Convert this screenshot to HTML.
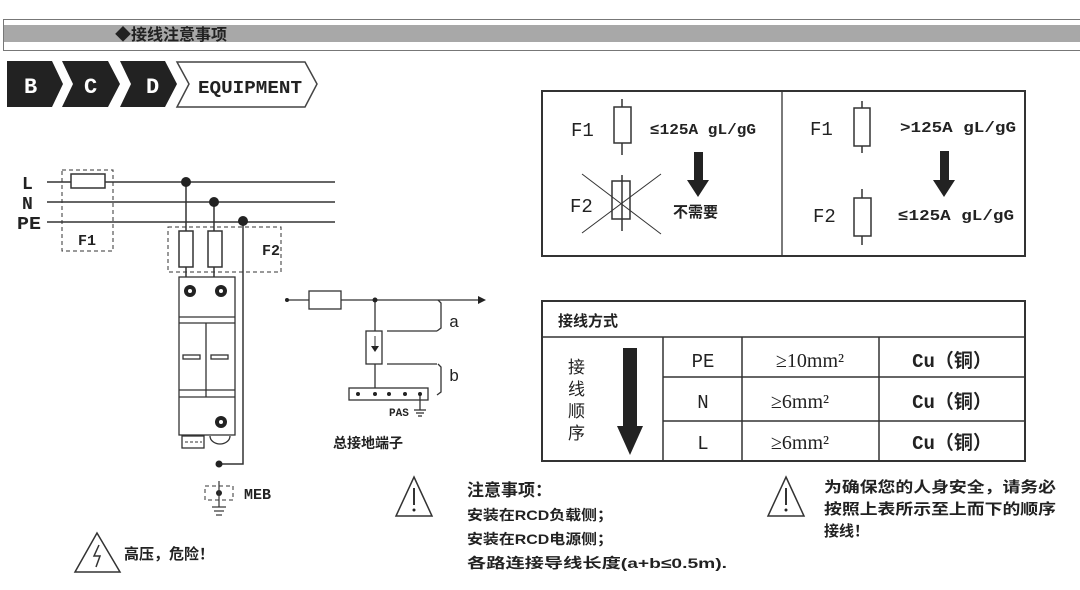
<!DOCTYPE html>
<html><head><meta charset="utf-8"><style>
html,body{margin:0;padding:0;background:#fff;width:1080px;height:590px;overflow:hidden}
svg{display:block}
text{font-family:"Liberation Sans","Noto Sans CJK SC",sans-serif;fill:#222}
.s{font-family:"Liberation Serif","Noto Serif CJK SC",serif}
.m{font-family:"Liberation Mono","Noto Sans CJK SC",monospace}
</style></head><body>
<svg width="1080" height="590" viewBox="0 0 1080 590" xmlns="http://www.w3.org/2000/svg">
<rect x="3.5" y="19.5" width="1080" height="31" fill="#fff" stroke="#777" stroke-width="1"/>
<rect x="4" y="25" width="1076" height="17" fill="#a8a8a8"/>
<text x="115" y="40" font-size="16" font-weight="bold" fill="#333">◆接线注意事项</text>
<polygon points="7,61 52,61 63,84 52,107 7,107" fill="#222"/>
<polygon points="62,61 108,61 120,84 108,107 62,107 73,84" fill="#222"/>
<polygon points="120,61 165,61 177,84 165,107 120,107 131,84" fill="#222"/>
<polygon points="177,62 305,62 317,84 305,107 177,107 189,84" fill="#fff" stroke="#444" stroke-width="1.5"/>
<text x="24" y="93" font-size="22" class="m" font-weight="bold" style="fill:#fff">B</text>
<text x="84" y="93" font-size="22" class="m" font-weight="bold" style="fill:#fff">C</text>
<text x="146" y="93" font-size="22" class="m" font-weight="bold" style="fill:#fff">D</text>
<text x="198" y="93" font-size="18" font-weight="bold" class="m" textLength="104" lengthAdjust="spacingAndGlyphs">EQUIPMENT</text>
<g stroke="#333" stroke-width="1.5" fill="none">
<line x1="47" y1="182" x2="335" y2="182"/>
<line x1="47" y1="202" x2="335" y2="202"/>
<line x1="47" y1="222" x2="335" y2="222"/>
<rect x="71" y="174" width="34" height="14" fill="#fff"/>
<line x1="186" y1="182" x2="186" y2="278"/>
<line x1="214" y1="202" x2="214" y2="278"/>
<polyline points="243,222 243,464 219,464"/>
<rect x="179" y="231" width="14" height="36" fill="#fff"/>
<rect x="208" y="231" width="14" height="36" fill="#fff"/>
</g>
<g stroke="#333" stroke-width="1" fill="none" stroke-dasharray="4,3">
<rect x="62" y="170" width="51" height="81"/>
<rect x="168" y="227" width="113" height="45"/>
<rect x="205" y="486" width="28" height="14"/>
</g>
<g fill="#222"><circle cx="186" cy="182" r="5"/><circle cx="214" cy="202" r="5"/><circle cx="243" cy="221" r="5"/><circle cx="219" cy="464" r="3.5"/></g>
<text x="22" y="189" font-size="18" class="m" font-weight="bold">L</text>
<text x="22" y="209" font-size="18" class="m" font-weight="bold">N</text>
<text x="17" y="229" font-size="18" class="m" font-weight="bold" textLength="24" lengthAdjust="spacingAndGlyphs">PE</text>
<text x="78" y="245" font-size="15" font-weight="bold" class="m">F1</text>
<text x="262" y="255" font-size="15" font-weight="bold" class="m">F2</text>
<g stroke="#333" stroke-width="1.3" fill="#fff">
<rect x="179" y="277" width="56" height="158"/>
<line x1="179" y1="317" x2="235" y2="317"/><line x1="179" y1="323" x2="235" y2="323"/>
<line x1="206" y1="323" x2="206" y2="397"/>
<line x1="179" y1="390" x2="235" y2="390"/><line x1="179" y1="397" x2="235" y2="397"/>
<rect x="183" y="355" width="17" height="4"/><rect x="211" y="355" width="17" height="4"/>
<rect x="182" y="436" width="22" height="12"/>
<path d="M210,436 A10,8 0 0 0 230,436" fill="none"/>
</g>
<g fill="#222"><circle cx="190" cy="291" r="6"/><circle cx="221" cy="291" r="6"/><circle cx="221" cy="422" r="6"/></g>
<g fill="#fff"><circle cx="190" cy="291" r="2"/><circle cx="221" cy="291" r="2"/><circle cx="221" cy="422" r="2"/></g>
<line x1="185" y1="442" x2="202" y2="442" stroke="#333" stroke-dasharray="3,2"/>
<circle cx="219" cy="493" r="3" fill="#222"/>
<g stroke="#333" stroke-width="1.2"><line x1="219" y1="481" x2="219" y2="507"/><line x1="212" y1="507" x2="226" y2="507"/><line x1="214" y1="511" x2="224" y2="511"/><line x1="216" y1="515" x2="222" y2="515"/></g>
<text x="244" y="499" font-size="15" font-weight="bold" class="m">MEB</text>
<g stroke="#333" stroke-width="1.3" fill="none">
<line x1="287" y1="300" x2="478" y2="300"/>
<rect x="309" y="291" width="32" height="18" fill="#fff"/>
<line x1="375" y1="300" x2="375" y2="389"/>
<rect x="366" y="331" width="16" height="33" fill="#fff"/>
<line x1="387" y1="331" x2="437" y2="331"/><line x1="387" y1="364" x2="437" y2="364"/>
<path d="M438,300 l3,3 v25 l-4,3"/><path d="M438,364 l3,3 v25 l-4,3"/>
<rect x="349" y="388" width="79" height="12" fill="#fff"/>
<line x1="420" y1="394" x2="420" y2="410"/><line x1="414" y1="410" x2="426" y2="410"/><line x1="416" y1="413" x2="424" y2="413"/><line x1="418" y1="416" x2="422" y2="416"/>
</g>
<polygon points="478,296 486,300 478,304" fill="#222"/>
<polygon points="371,346 379,346 375,352" fill="#222"/>
<line x1="375" y1="336" x2="375" y2="348" stroke="#333"/>
<g fill="#222"><circle cx="287" cy="300" r="2"/><circle cx="375" cy="300" r="2.5"/><circle cx="358" cy="394" r="2"/><circle cx="375" cy="394" r="2"/><circle cx="389" cy="394" r="2"/><circle cx="405" cy="394" r="2"/><circle cx="420" cy="394" r="2"/></g>
<text x="449" y="327" font-size="17" class="m">a</text>
<text x="449" y="381" font-size="17" class="m">b</text>
<text x="389" y="416" font-size="11" font-weight="bold" class="m">PAS</text>
<text x="333" y="448" font-size="14" font-weight="bold">总接地端子</text>
<polygon points="97,533 120,572 75,572" fill="none" stroke="#333" stroke-width="1.5"/>
<path d="M99,545 l-5,11 h6 l-4,11" fill="none" stroke="#333" stroke-width="1.5"/>
<text x="124" y="559" font-size="15" font-weight="bold">高压，危险！</text>
<g stroke="#333" fill="none">
<rect x="542" y="91" width="483" height="165" stroke-width="2"/>
<line x1="782" y1="91" x2="782" y2="256" stroke-width="1.3"/>
<g stroke-width="1.5">
<line x1="622" y1="99" x2="622" y2="155"/><rect x="614" y="107" width="17" height="36" fill="#fff"/>
<line x1="622" y1="175" x2="622" y2="231"/><rect x="612" y="181" width="18" height="38" fill="none"/>
<line x1="582" y1="174" x2="661" y2="234" stroke-width="1"/><line x1="582" y1="233" x2="661" y2="174" stroke-width="1"/>
<line x1="862" y1="101" x2="862" y2="153"/><rect x="854" y="108" width="16" height="38" fill="#fff"/>
<line x1="862" y1="189" x2="862" y2="245"/><rect x="854" y="198" width="17" height="38" fill="#fff"/>
</g></g>
<polygon points="694,152 703,152 703,180 709,180 698,197 687,180 694,180" fill="#222"/>
<polygon points="940,151 949,151 949,180 955,180 944,197 933,180 940,180" fill="#222"/>
<text x="571" y="136" font-size="19" class="m">F1</text>
<text x="570" y="212" font-size="19" class="m">F2</text>
<text x="650" y="134" font-size="15" font-weight="bold" class="m" textLength="106" lengthAdjust="spacingAndGlyphs">≤125A gL/gG</text>
<text x="673" y="217" font-size="15" font-weight="bold">不需要</text>
<text x="810" y="135" font-size="19" class="m">F1</text>
<text x="813" y="222" font-size="19" class="m">F2</text>
<text x="900" y="132" font-size="15" font-weight="bold" class="m" textLength="116" lengthAdjust="spacingAndGlyphs">&gt;125A gL/gG</text>
<text x="898" y="220" font-size="15" font-weight="bold" class="m" textLength="116" lengthAdjust="spacingAndGlyphs">≤125A gL/gG</text>
<g stroke="#333" fill="none" stroke-width="1.5">
<rect x="542" y="301" width="483" height="160" stroke-width="2"/>
<line x1="542" y1="337" x2="1025" y2="337"/>
<line x1="663" y1="337" x2="663" y2="461"/>
<line x1="742" y1="337" x2="742" y2="461"/>
<line x1="879" y1="337" x2="879" y2="461"/>
<line x1="663" y1="377" x2="1025" y2="377"/>
<line x1="663" y1="421" x2="1025" y2="421"/>
</g>
<text x="558" y="326" font-size="15" font-weight="bold">接线方式</text>
<text x="568" y="373" font-size="17">接</text>
<text x="568" y="395" font-size="17">线</text>
<text x="568" y="417" font-size="17">顺</text>
<text x="568" y="439" font-size="17">序</text>
<polygon points="623,348 637,348 637,426 643,426 630,455 617,426 623,426" fill="#222"/>
<g font-size="19" text-anchor="middle">
<text x="703" y="367" class="m">PE</text><text x="703" y="408" class="m">N</text><text x="703" y="449" class="m">L</text>
<text x="810" y="367" class="s" font-size="20">≥10mm²</text><text x="800" y="408" class="s" font-size="20">≥6mm²</text><text x="800" y="449" class="s" font-size="20">≥6mm²</text>
<text x="952" y="367" class="m" font-weight="bold">Cu（铜）</text><text x="952" y="408" class="m" font-weight="bold">Cu（铜）</text><text x="952" y="449" class="m" font-weight="bold">Cu（铜）</text>
</g>
<polygon points="414,477 432,516 396,516" fill="none" stroke="#333" stroke-width="1.5"/>
<line x1="414" y1="488" x2="414" y2="505" stroke="#333" stroke-width="2"/><circle cx="414" cy="510" r="1.5" fill="#222"/>
<text x="467" y="496" font-size="17" font-weight="bold">注意事项：</text>
<text x="467" y="520" font-size="14" font-weight="bold" textLength="146" lengthAdjust="spacingAndGlyphs">安装在RCD负载侧；</text>
<text x="467" y="544" font-size="14" font-weight="bold" textLength="146" lengthAdjust="spacingAndGlyphs">安装在RCD电源侧；</text>
<text x="467" y="568" font-size="14" font-weight="bold" textLength="260" lengthAdjust="spacingAndGlyphs">各路连接导线长度(a+b≤0.5m).</text>
<polygon points="786,477 804,516 768,516" fill="none" stroke="#333" stroke-width="1.5"/>
<line x1="786" y1="488" x2="786" y2="505" stroke="#333" stroke-width="2"/><circle cx="786" cy="510" r="1.5" fill="#222"/>
<text x="824" y="492" font-size="15" font-weight="bold" textLength="232" lengthAdjust="spacingAndGlyphs">为确保您的人身安全，请务必</text>
<text x="824" y="514" font-size="15" font-weight="bold" textLength="232" lengthAdjust="spacingAndGlyphs">按照上表所示至上而下的顺序</text>
<text x="824" y="536" font-size="15" font-weight="bold">接线！</text>
</svg>
</body></html>
